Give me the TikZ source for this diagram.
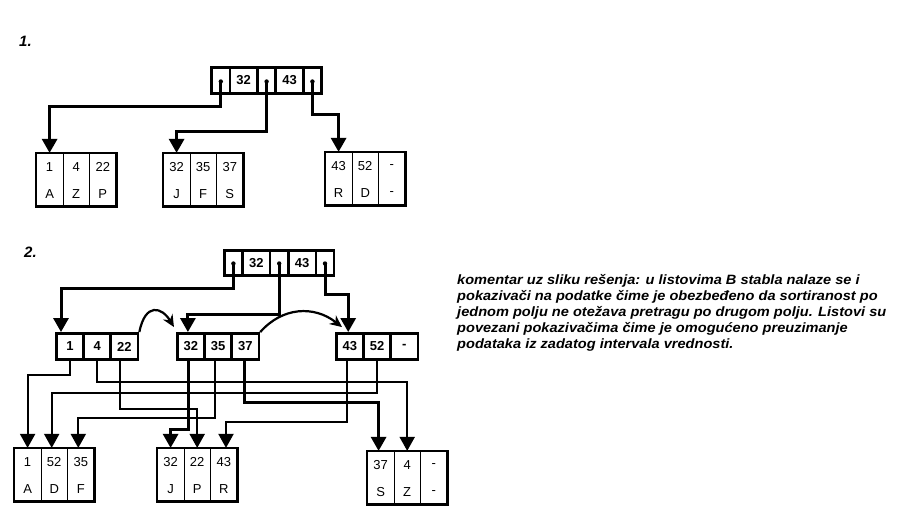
\documentclass[tikz,border=0pt]{standalone}
\usepackage{fontspec}
\setmainfont{Liberation Sans}
\newfontfamily\cmtfont{Liberation Sans}[FakeStretch=1.08]
\usetikzlibrary{arrows.meta,calc}
\tikzset{
  kcell/.style={draw, line width=2.7pt, minimum width=27.6pt, minimum height=25.6pt, inner sep=0pt, font=\bfseries\fontsize{13}{15}\selectfont},
  pcell/.style={kcell, minimum width=18.2pt},
  icell/.style={kcell, minimum width=27.2pt, minimum height=26.2pt},
  ptr/.style={circle, fill=black, inner sep=0pt, minimum size=4.4pt},
  lcol/.style={draw, line width=0.8pt, minimum width=26.6pt, minimum height=52.5pt, inner sep=0pt},
  ltxt/.style={inner sep=0pt, font=\fontsize{13}{15}\selectfont},
  bigtip/.style={-{Triangle[length=14pt,width=15pt]}},
  tlink/.style={bigtip, line width=3pt},
  nlink/.style={bigtip, line width=2pt},
  clink/.style={line width=2.2pt, -{Stealth[length=12pt,width=11pt]}},
  title/.style={inner sep=0pt, anchor=base west, font=\bfseries\itshape\fontsize{15}{17}\selectfont},
  cmt/.style={inner sep=0pt, anchor=base west, font=\cmtfont\bfseries\itshape\fontsize{13.5}{15}\selectfont}
}
% leaf: name, left x, top y, five texts (the sixth is set separately)
\newcommand\leafbox[8]{%
  \node[lcol] (#1a) at (#2+13.3,#3+26.25) {};
  \node[lcol] (#1b) at (#2+39.9,#3+26.25) {};
  \node[lcol] (#1c) at (#2+66.5,#3+26.25) {};
  \draw[line width=2.7pt] (#1a.north west) rectangle (#1c.south east);
  \node[ltxt] (#1at) at (#2+13.3,#3+14) {#4};
  \node[ltxt] (#1bt) at (#2+39.9,#3+14) {#5};
  \node[ltxt] (#1ct) at (#2+66.5,#3+14) {#6};
  \node[ltxt] (#1ab) at (#2+13.3,#3+41) {#7};
  \node[ltxt] (#1bb) at (#2+39.9,#3+41) {#8};
}
\begin{document}
\begin{tikzpicture}[x=1pt,y=-1pt]
\useasboundingbox (0,0) rectangle (902,524);

% ---------- titles ----------
\node[title] (t1) at (19,47) {1.};
\node[title] (t2) at (24,257) {2.};

% ---------- tree 1 root ----------
\node[pcell] (r1a) at (220.8,80.5) {};
\node[kcell] (r1b) at (243.7,80.5) {32};
\node[pcell] (r1c) at (266.6,80.5) {};
\node[kcell] (r1d) at (289.5,80.5) {43};
\node[pcell] (r1e) at (312.4,80.5) {};
\node[ptr] (p1a) at (220.8,81.5) {};
\node[ptr] (p1c) at (266.6,81.5) {};
\node[ptr] (p1e) at (312.4,81.5) {};

% ---------- tree 1 leaves ----------
\leafbox{la}{36.3}{153.3}{1}{4}{22}{A}{Z}
\node[ltxt] (lacb) at (36.3+66.5,153.3+41) {P};
\leafbox{lb}{163.3}{153.3}{32}{35}{37}{J}{F}
\node[ltxt] (lbcb) at (163.3+66.5,153.3+41) {S};
\leafbox{lc}{325.3}{152.3}{43}{52}{-}{R}{D}
\node[ltxt] (lccb) at (325.3+66.5,152.3+41) {-};

\draw[tlink] (p1a.center) -- ++(0,25.5) -| (laa.north);
\draw[tlink] (p1c.center) -- ++(0,50.5) -| (lba.north);
\draw[tlink] (p1e.center) -- ++(0,33.5) -| (lca.north);

% ---------- tree 2 root ----------
\node[pcell] (r2a) at (233.4,263) {};
\node[kcell] (r2b) at (256.3,263) {32};
\node[pcell] (r2c) at (279.2,263) {};
\node[kcell] (r2d) at (302.1,263) {43};
\node[pcell] (r2e) at (325.0,263) {};
\node[ptr] (p2a) at (233.4,263.5) {};
\node[ptr] (p2c) at (279.2,263.5) {};
\node[ptr] (p2e) at (325.0,263.5) {};

% ---------- tree 2 index leaves ----------
\node[icell] (n1a) at (70,346.5) {1};
\node[icell] (n1b) at (97.2,346.5) {4};
\node[icell] (n1c) at (124.4,346.5) {22};
\node[icell] (n2a) at (190.9,346.5) {32};
\node[icell] (n2b) at (218.1,346.5) {35};
\node[icell] (n2c) at (245.3,346.5) {37};
\node[icell] (n3a) at (349.9,346.5) {43};
\node[icell] (n3b) at (377.1,346.5) {52};
\node[icell] (n3c) at (404.3,346.5) {-};

\draw[tlink] (p2a.center) -- ++(0,24.5) -| ([xshift=-9pt]n1a.north);
\draw[tlink] (p2c.center) -- ++(0,50.5) -| ([xshift=-3pt]n2a.north);
\draw[tlink] (p2e.center) -- ++(0,30.5) -| ([xshift=-1.7pt]n3a.north);

% sibling links
\draw[clink] (n1c.north east) .. controls +(6,-30) and +(-12,-20) .. ([xshift=-2pt,yshift=5pt]n2a.north west);
\draw[clink] (n2c.north east) .. controls +(22,-25) and +(-28,-22) .. ([xshift=7pt,yshift=5pt]n3a.north west);

% ---------- tree 2 data leaves ----------
\leafbox{da}{14.3}{448.3}{1}{52}{35}{A}{D}
\node[ltxt] (dacb) at (14.3+66.5,448.3+41) {F};
\leafbox{db}{157.3}{448.3}{32}{22}{43}{J}{P}
\node[ltxt] (dbcb) at (157.3+66.5,448.3+41) {R};
\leafbox{dc}{367.3}{451.3}{37}{4}{-}{S}{Z}
\node[ltxt] (dccb) at (367.3+66.5,451.3+41) {-};

% data pointers
\draw[nlink] (n1a.south) -- ++(0,14.4) -| (daa.north);
\draw[nlink] (n1b.south) -- ++(0,21.4) -| (dcb.north);
\draw[nlink] ([xshift=-4.4pt]n1c.south) -- ++(0,48.4) -| (dbb.north);
\draw[tlink] ([xshift=-2.9pt]n2a.south) -- ++(0,68.4) -| (dba.north);
\draw[nlink] ([xshift=-3pt]n2b.south) -- ++(0,57.4) -| ([xshift=-2.5pt]dac.north);
\draw[tlink] ([xshift=-1.3pt]n2c.south) -- ++(0,41.4) -| ([xshift=-2pt]dca.north);
\draw[nlink] ([xshift=-2.9pt]n3a.south) -- ++(0,61.4) -| ([xshift=2.2pt]dbc.north);
\draw[nlink] (n3b.south) -- ++(0,32.4) -| ([xshift=-2.5pt]dab.north);

% ---------- comment ----------
\node[cmt] (c1) at (457,284) {komentar uz sliku rešenja: u listovima B stabla nalaze se i};
\node[cmt] (c2) at (457,300) {pokazivači na podatke čime je obezbeđeno da sortiranost po};
\node[cmt] (c3) at (457,316) {jednom polju ne otežava pretragu po drugom polju. Listovi su};
\node[cmt] (c4) at (457,332) {povezani pokazivačima čime je omogućeno preuzimanje};
\node[cmt] (c5) at (457,348) {podataka iz zadatog intervala vrednosti.};
\end{tikzpicture}
\end{document}
